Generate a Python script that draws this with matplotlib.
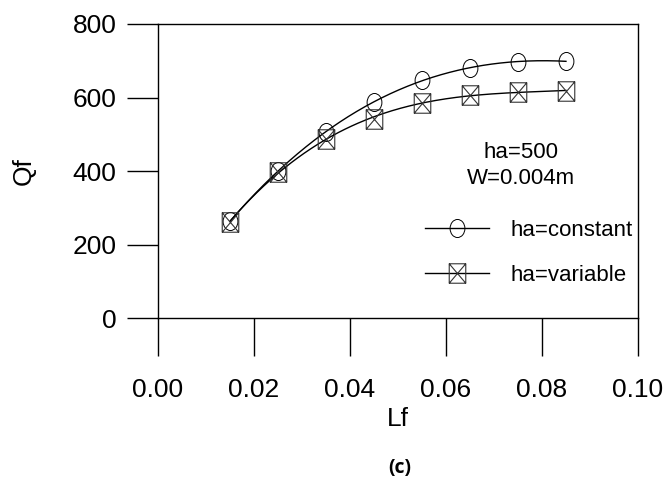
import numpy as np
import matplotlib.pyplot as plt
from matplotlib.path import Path
from matplotlib.transforms import Affine2D
from matplotlib.lines import Line2D

# Lf values and Qf for both cases
lf = [0.015, 0.025, 0.035, 0.045, 0.055, 0.065, 0.075, 0.085]
qf_const = [263, 400, 506, 588, 648, 680, 697, 699]
qf_var = [261, 398, 488, 541, 585, 607, 615, 618]

xticks = [0.00, 0.02, 0.04, 0.06, 0.08, 0.10]
xticklabels = ["0.00", "0.02", "0.04", "0.06", "0.08", "0.10"]
yticks = [0, 200, 400, 600, 800]

plt.rcParams["font.family"] = ["Liberation Sans", "DejaVu Sans"]

# slightly tall circle and a boxed X marker
circ = Path.unit_circle().transformed(Affine2D().scale(0.82, 1.0))
box_x = Path(
    [(-0.85, -1), (0.85, -1), (0.85, 1), (-0.85, 1), (-0.85, -1),
     (-0.85, -1), (0.85, 1), (-0.85, 1), (0.85, -1)],
    [Path.MOVETO, Path.LINETO, Path.LINETO, Path.LINETO, Path.CLOSEPOLY,
     Path.MOVETO, Path.LINETO, Path.MOVETO, Path.LINETO])

fig = plt.figure(figsize=(6.66, 4.79), dpi=100)
ax = fig.add_axes([0.2372, 0.3361, 0.7207, 0.6138])

# smooth curves fitted through each series
xs = np.linspace(lf[0], lf[-1], 200)
fit_c = np.poly1d(np.polyfit(lf, qf_const, 3))
fit_v = np.poly1d(np.polyfit(lf, qf_var, 3))
ax.plot(xs, fit_c(xs), color="black", lw=1.0)
ax.plot(xs, fit_v(xs), color="black", lw=1.0)

circ_style = dict(marker=circ, markersize=13, markerfacecolor="none",
                  markeredgecolor="black", markeredgewidth=0.7)
box_style = dict(marker=box_x, markersize=14, markerfacecolor="none",
                 markeredgecolor="#333333", markeredgewidth=0.8)
ax.plot(lf, qf_const, linestyle="none", **circ_style)
ax.plot(lf, qf_var, linestyle="none", **box_style)

ax.set_xlim(0, 0.10)
ax.set_ylim(0, 800)
ax.set_xticks(xticks)
ax.set_xticklabels(xticklabels)
ax.set_yticks(yticks)
ax.tick_params(axis="x", direction="out", length=27, width=1.0, pad=16,
               labelsize=19)
ax.tick_params(axis="y", direction="out", length=22, width=1.0, pad=8,
               labelsize=19)
for s in ax.spines.values():
    s.set_linewidth(1.0)

ax.set_xlabel("Lf", fontsize=19, labelpad=4)
ax.set_ylabel("Qf", fontsize=19, labelpad=26)

ax.text(0.0756, 415, "ha=500\nW=0.004m", ha="center", va="center",
        fontsize=16, linespacing=1.3)

handles = [
    Line2D([], [], color="black", lw=1.0, **circ_style),
    Line2D([], [], color="black", lw=1.0, **box_style),
]
ax.legend(handles, ["ha=constant", "ha=variable"], loc="upper left",
          bbox_to_anchor=(0.557, 0.335), frameon=False, fontsize=16,
          handlelength=2.85, handletextpad=1.0, labelspacing=1.1,
          borderpad=0, borderaxespad=0)

fig.text(0.6, 0.012, "(c)", fontsize=14, fontweight="bold",
         family=["Open Sans", "DejaVu Sans"], ha="center")

fig.savefig("out.png", dpi=100)
